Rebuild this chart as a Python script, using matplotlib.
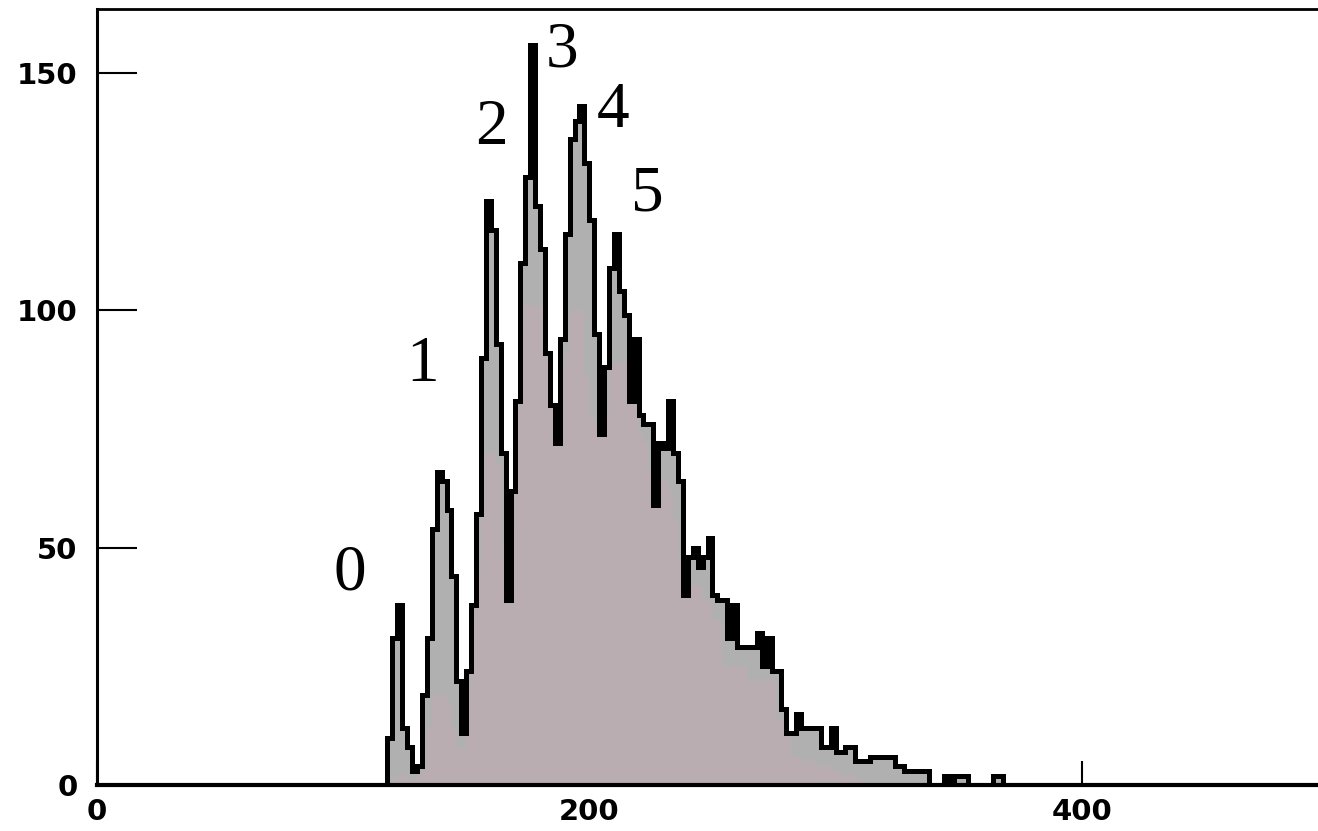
import numpy as np
import matplotlib
matplotlib.use("Agg")
import matplotlib.pyplot as plt

# Histogram binning (channel units)
bin_start = 116
bin_width = 2

# Counts per bin (outlined histogram)
counts = [
    0, 10, 31, 38, 12, 8, 3, 4, 19, 31,          # 116-134
    54, 66, 64, 58, 44, 22, 11, 24, 38, 57,      # 136-154
    90, 123, 117, 93, 70, 39, 62, 81, 110, 128,  # 156-174
    156, 122, 113, 91, 80, 72, 94, 116, 136, 140,  # 176-194
    143, 131, 119, 95, 74, 88, 109, 116, 104, 99,  # 196-214
    81, 94, 78, 76, 76, 59, 72, 71, 81, 70,      # 216-234
    64, 40, 48, 50, 46, 48, 52, 40, 39, 39,      # 236-254
    31, 38, 29, 29, 29, 29, 32, 25, 31, 24,      # 256-274
    24, 16, 11, 11, 15, 12, 12, 12, 12, 8,       # 276-294
    8, 12, 7, 7, 8, 8, 5, 5, 5, 6,               # 296-314
    6, 6, 6, 6, 4, 4, 3, 3, 3, 3,                # 316-334
    3, 0, 0, 0, 2, 0, 2, 2, 2, 0,                # 336-354
    0, 0, 0, 0, 2, 2, 0,                         # 356-368
]

# Underlying smoother component (drawn inside the histogram)
component = [
    0, 0, 1, 2, 2, 1, 1, 2, 3, 12,
    19, 19, 19, 17, 12, 8, 8, 20, 36, 45,
    70, 70, 70, 68, 50, 38, 55, 81, 96, 101,
    101, 101, 101, 91, 80, 72, 88, 91, 100, 100,
    100, 86, 78, 76, 74, 78, 89, 89, 89, 89,
    81, 89, 74, 72, 66, 59, 64, 64, 62, 56,
    48, 40, 42, 42, 42, 39, 39, 35, 35, 25,
    25, 25, 25, 25, 22, 22, 22, 22, 22, 22,
    14, 14, 10, 6, 6, 5, 5, 5, 4, 4,
    4, 3, 3, 2, 2, 2, 1, 1, 0, 0,
    0, 0, 0, 0, 0, 0, 0, 0, 0, 0,
    0, 0, 0, 0, 0, 0, 0, 0, 0, 0,
    0, 0, 0, 0, 0, 0, 0,
]

# Peak labels: (text, x, y)
peak_labels = ["0", "1", "2", "3", "4", "5"]
peak_x = [102.5, 132.2, 160.4, 189.0, 209.5, 223.6]
peak_y = [44.5, 88.5, 138.4, 154.8, 142.0, 124.3]

x_ticks = [0, 200, 400]
y_ticks = [0, 50, 100, 150]

counts = np.asarray(counts, dtype=float)
component = np.minimum(np.asarray(component, dtype=float), counts)
edges = bin_start + bin_width * np.arange(len(counts) + 1)

fig = plt.figure(figsize=(13.18, 8.31), dpi=100)
ax = fig.add_axes([97 / 1318, 46 / 831, 1 - 97 / 1318 + 0.01, (785 - 8.5) / 831])

ax.stairs(counts, edges, fill=True, color="#b1b0b1", baseline=0, zorder=1)
ax.stairs(component, edges, fill=True, color="#baadb1", baseline=0, zorder=2)
ax.stairs(counts, edges, fill=False, color="black", linewidth=3.6,
          baseline=0, zorder=3)

for txt, px, py in zip(peak_labels, peak_x, peak_y):
    ax.text(px, py, txt, ha="center", va="center", fontsize=47,
            family="Liberation Serif", color="black", zorder=4)

ax.set_xlim(0, 496 + 496 * 0.01 / (1 - 97 / 1318))
ax.set_ylim(0, 163.6)

ax.set_xticks(x_ticks)
ax.set_yticks(y_ticks)
ax.set_xticklabels([str(v) for v in x_ticks])
ax.set_yticklabels([str(v) for v in y_ticks])

ax.tick_params(axis="y", direction="in", length=29, width=1.5,
               pad=14, labelsize=21)
ax.tick_params(axis="x", direction="in", length=17, width=1.5,
               pad=9, labelsize=21)
for lab in ax.get_xticklabels() + ax.get_yticklabels():
    lab.set_fontweight("bold")
    lab.set_family("DejaVu Sans")

ax.spines["right"].set_visible(False)
ax.spines["left"].set_linewidth(2.2)
ax.spines["bottom"].set_linewidth(3.0)
ax.spines["top"].set_linewidth(2.0)
for s in ax.spines.values():
    s.set_zorder(5)

fig.savefig("out.png", dpi=100, facecolor="white")
